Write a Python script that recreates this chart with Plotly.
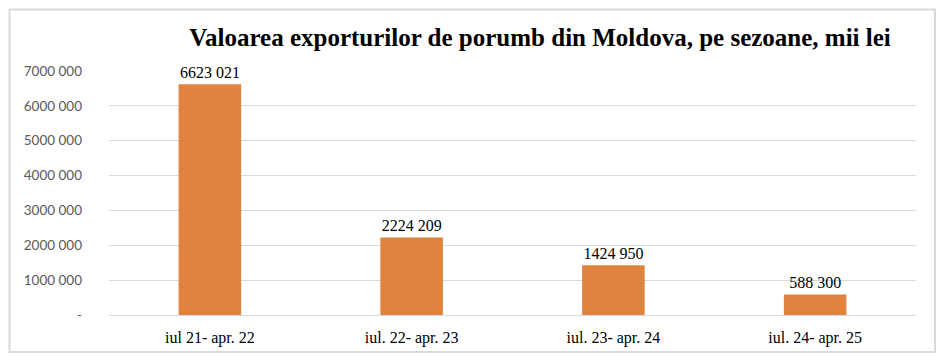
import plotly.graph_objects as go

categories = ["iul 21- apr. 22", "iul. 22- apr. 23", "iul. 23- apr. 24", "iul. 24- apr. 25"]
values = [6623021, 2224209, 1424950, 588300]
y_tick_vals = [0, 1000000, 2000000, 3000000, 4000000, 5000000, 6000000, 7000000]
title_text = "Valoarea exporturilor de porumb din Moldova, pe sezoane, mii lei"


def fmt(v):
    if v == 0:
        return "-"
    return f"{v // 1000} {v % 1000:03d}"


SERIF = "Liberation Serif, Times New Roman, DejaVu Serif, serif"
OFF = 8  # default page body margin

fig = go.Figure()
fig.add_trace(go.Bar(
    x=categories,
    y=values,
    width=0.31,
    marker=dict(color="#E0833F", line=dict(width=0)),
    text=[fmt(v) for v in values],
    textposition="outside",
    cliponaxis=False,
    textfont=dict(family=SERIF, size=16, color="#000000"),
))

W, H = 948 - OFF, 362 - OFF
ml = 109 - OFF
mt = 71 - OFF
mr = W - (916 - OFF)
mb = H - (315 - OFF)
pw, ph = W - ml - mr, H - mt - mb


def px_x(p):
    return (p - OFF - ml) / pw


def px_y(p):
    return (H - (p - OFF) - mb) / ph


fig.update_layout(
    width=W, height=H,
    margin=dict(l=ml, r=mr, t=mt, b=mb),
    paper_bgcolor="white", plot_bgcolor="white",
    showlegend=False,
    title=dict(
        text="<b>" + title_text + "</b>",
        x=px_x(540), xref="paper", xanchor="center",
        y=1 - (37 - OFF) / H, yref="container", yanchor="middle",
        font=dict(family=SERIF, size=25, color="#000000"),
    ),
    xaxis=dict(
        showgrid=False, showline=False, zeroline=False,
        ticks="", tickfont=dict(family=SERIF, size=16, color="#000000"),
        ticklabelstandoff=11,
    ),
    yaxis=dict(
        range=[0, 7000000],
        tickvals=y_tick_vals,
        ticktext=[fmt(v) for v in y_tick_vals],
        showgrid=True, gridcolor="#D9D9D9", gridwidth=1,
        zeroline=True, zerolinecolor="#D9D9D9", zerolinewidth=1,
        showline=False, ticks="",
        tickfont=dict(family="Lato", size=13.5, color="#595959"),
        ticklabelstandoff=26,
    ),
    shapes=[dict(
        type="rect", xref="paper", yref="paper",
        x0=px_x(OFF + 1.5), x1=px_x(935),
        y0=px_y(352), y1=px_y(OFF + 1.5),
        line=dict(color="#D9D9D9", width=2), fillcolor="rgba(0,0,0,0)", layer="above",
    )],
)

fig.write_html("out.html")
